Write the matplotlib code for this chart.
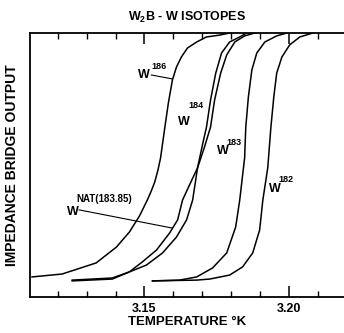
import matplotlib.pyplot as plt
from matplotlib.ticker import MultipleLocator, FixedLocator

plt.rcParams['font.family'] = ['Liberation Sans', 'DejaVu Sans']
plt.rcParams['font.weight'] = 'bold'

# curves: temperature (K) and normalised bridge output
t186 = [3.1111, 3.1215, 3.1333, 3.1403, 3.1448, 3.1483, 3.1510, 3.1524, 3.1536,
        3.1547, 3.1556, 3.1571, 3.1583, 3.1597, 3.1611, 3.1628, 3.1649, 3.1681,
        3.1715, 3.1760, 3.1795]
y186 = [0.076, 0.087, 0.129, 0.189, 0.246, 0.307, 0.367, 0.402, 0.436,
        0.481, 0.527, 0.644, 0.735, 0.822, 0.871, 0.909, 0.943, 0.966,
        0.985, 0.992, 1.000]

tnat = [3.1250, 3.1389, 3.1448, 3.1493, 3.1542, 3.1587, 3.1615, 3.1632, 3.1656,
        3.1684, 3.1708, 3.1729, 3.1743, 3.1764, 3.1785, 3.1813, 3.1847, 3.1882]
ynat = [0.064, 0.072, 0.095, 0.133, 0.178, 0.242, 0.292, 0.367, 0.424,
        0.489, 0.568, 0.644, 0.746, 0.848, 0.917, 0.966, 0.989, 1.000]

t184 = [3.1250, 3.1389, 3.1448, 3.1507, 3.1563, 3.1611, 3.1646, 3.1667, 3.1684,
        3.1701, 3.1715, 3.1729, 3.1747, 3.1767, 3.1795, 3.1830, 3.1854]
y184 = [0.061, 0.068, 0.095, 0.121, 0.167, 0.227, 0.292, 0.367, 0.489,
        0.576, 0.644, 0.746, 0.848, 0.924, 0.966, 0.985, 1.000]

t183 = [3.1528, 3.1622, 3.1681, 3.1736, 3.1785, 3.1816, 3.1830, 3.1847, 3.1851,
        3.1860, 3.1872, 3.1889, 3.1917, 3.1958, 3.1993]
y183 = [0.061, 0.064, 0.076, 0.110, 0.167, 0.265, 0.367, 0.527, 0.644,
        0.758, 0.860, 0.924, 0.966, 0.989, 1.000]

t182 = [3.1528, 3.1681, 3.1726, 3.1795, 3.1840, 3.1875, 3.1899, 3.1910, 3.1927,
        3.1938, 3.1948, 3.1958, 3.1976, 3.2003, 3.2038, 3.2083]
y182 = [0.061, 0.064, 0.068, 0.083, 0.114, 0.167, 0.254, 0.367, 0.489,
        0.644, 0.758, 0.848, 0.909, 0.955, 0.985, 1.000]

fig = plt.figure(figsize=(3.44, 3.33), dpi=100)
ax = fig.add_axes([30/344, 36/333, 1 - 30/344, 264/333])

for t, y in [(t186, y186), (tnat, ynat), (t184, y184), (t183, y183), (t182, y182)]:
    ax.plot(t, y, color='black', lw=1.1, solid_joinstyle='round')

ax.set_xlim(3.1104, 3.2191)
ax.set_ylim(0, 1.0)

ax.spines['right'].set_visible(False)
for s in ['left', 'bottom', 'top']:
    ax.spines[s].set_linewidth(1.3)

ax.xaxis.set_major_locator(FixedLocator([3.15, 3.20]))
ax.xaxis.set_minor_locator(MultipleLocator(0.01))
ax.set_xticklabels(['3.15', '3.20'])
ax.tick_params(axis='x', which='major', direction='in', length=8, width=1.1,
               top=True, labelsize=9, pad=4)
ax.tick_params(axis='x', which='minor', direction='in', length=4, width=1.0, top=True)
ax.set_yticks([])

ax.set_xlabel('TEMPERATURE °K', fontsize=9.5, fontweight='bold', labelpad=1)
ax.set_ylabel('IMPEDANCE BRIDGE OUTPUT', fontsize=10, fontweight='bold', labelpad=8)
ax.set_title('W$_{\\mathregular{2}}$B - W ISOTOPES', fontsize=9, fontweight='bold', pad=9)

# curve labels
lab = dict(fontsize=9, fontweight='bold', va='baseline', ha='left')
sup = dict(fontsize=6.5, fontweight='bold', va='baseline', ha='left')
ax.text(3.1479, 0.83, 'W', **lab)
ax.text(3.1523, 0.864, '186', **sup)
ax.plot([3.1524, 3.1597], [0.841, 0.826], color='black', lw=0.8)

ax.text(3.1618, 0.652, 'W', **lab)
ax.text(3.1652, 0.716, '184', **sup)

ax.text(3.1750, 0.542, 'W', **lab)
ax.text(3.1785, 0.576, '183', **sup)

ax.text(3.1931, 0.398, 'W', **lab)
ax.text(3.1965, 0.436, '182', **sup)

ax.text(3.1233, 0.311, 'W', **lab)
ax.text(3.1264, 0.360, 'NAT(183.85)', fontsize=7, fontweight='bold', va='baseline', ha='left')
ax.plot([3.1274, 3.1597], [0.330, 0.261], color='black', lw=0.8)

fig.savefig('out.png', dpi=100)
